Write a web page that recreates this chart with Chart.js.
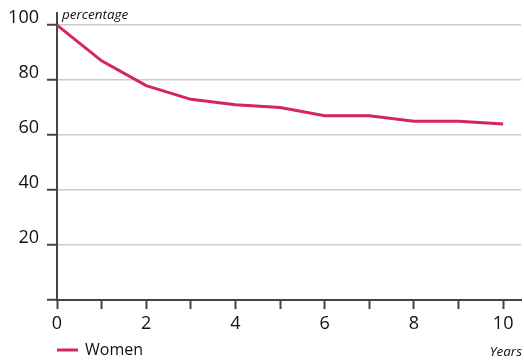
<!DOCTYPE html>
<html>
<head>
<meta charset="utf-8">
<script src="https://cdn.jsdelivr.net/npm/chart.js@4/dist/chart.umd.min.js"></script>
<style>
  html, body { margin: 0; padding: 0; background: #fff; }
  #wrap { width: 524px; height: 360px; }
</style>
</head>
<body>
<div id="wrap"><canvas id="myChart"></canvas></div>
<script>
const years = [0, 1, 2, 3, 4, 5, 6, 7, 8, 9, 10];
const women = [100, 87, 78, 73, 71, 70, 67, 67, 65, 65, 64];
const xTicks = [0, 1, 2, 3, 4, 5, 6, 7, 8, 9, 10];
const yTicks = [0, 20, 40, 60, 80, 100];
const seriesName = "Women";
const yAxisTitle = "percentage";
const xAxisTitle = "Years";

const red = "#d4265a";
const dark = "#444444";
const font = "'Open Sans', 'DejaVu Sans', sans-serif";

const fixedTicks = (values) => (axis) => {
  axis.ticks = values.map((v) => ({ value: v }));
};

// titles and legend drawn around the plot
const extras = {
  id: "extras",
  afterDraw(chart) {
    const ctx = chart.ctx;
    const area = chart.chartArea;
    ctx.save();
    ctx.fillStyle = "#111";
    ctx.textBaseline = "middle";
    ctx.font = "italic 13.5px " + font;
    ctx.textAlign = "left";
    ctx.fillText(yAxisTitle, area.left + 5, 15);
    ctx.textAlign = "right";
    ctx.fillText(xAxisTitle, 522, 352);

    ctx.strokeStyle = red;
    ctx.lineWidth = 3;
    ctx.beginPath();
    ctx.moveTo(area.left, 350);
    ctx.lineTo(area.left + 21, 350);
    ctx.stroke();
    ctx.font = "16px " + font;
    ctx.textAlign = "left";
    ctx.fillText(seriesName, area.left + 28, 350);
    ctx.restore();
  },
};

const ctx = document.getElementById("myChart").getContext("2d");
const myChart = new Chart(ctx, {
  type: "line",
  data: {
    labels: years,
    datasets: [
      {
        label: seriesName,
        data: years.map((x, i) => ({ x: x, y: women[i] })),
        borderColor: red,
        borderWidth: 3,
        pointRadius: 0,
        tension: 0,
        fill: false,
      },
    ],
  },
  options: {
    responsive: true,
    maintainAspectRatio: false,
    animation: false,
    layout: { padding: { top: 13, right: 3, left: 0, bottom: 0 } },
    plugins: {
      legend: { display: false },
      tooltip: { enabled: false },
    },
    scales: {
      x: {
        type: "linear",
        min: 0,
        max: 10.4,
        afterBuildTicks: fixedTicks(xTicks),
        afterFit(axis) {
          axis.height = 60;
          axis.paddingLeft = 0;
          axis.paddingRight = 0;
        },
        ticks: {
          color: "#111",
          padding: 4,
          maxRotation: 0,
          autoSkip: false,
          font: { family: font, size: 18 },
          callback: (v) => (v % 2 === 0 ? v : ""),
        },
        grid: {
          drawOnChartArea: false,
          drawTicks: true,
          tickLength: 9,
          tickColor: dark,
          tickWidth: 2,
        },
        border: { color: dark, width: 2 },
      },
      y: {
        min: 0,
        max: 104.4,
        afterBuildTicks: fixedTicks(yTicks),
        afterFit(axis) {
          axis.width = 57;
          axis.paddingTop = 0;
          axis.paddingBottom = 0;
        },
        ticks: {
          color: "#111",
          padding: 8,
          labelOffset: -7,
          autoSkip: false,
          font: { family: font, size: 18 },
          callback: (v) => (v === 0 ? "" : v),
        },
        grid: {
          color: "#cccccc",
          lineWidth: 1.5,
          tickLength: 10,
          tickColor: dark,
          tickWidth: 2,
        },
        border: { color: dark, width: 2 },
      },
    },
  },
  plugins: [extras],
});
</script>
</body>
</html>
